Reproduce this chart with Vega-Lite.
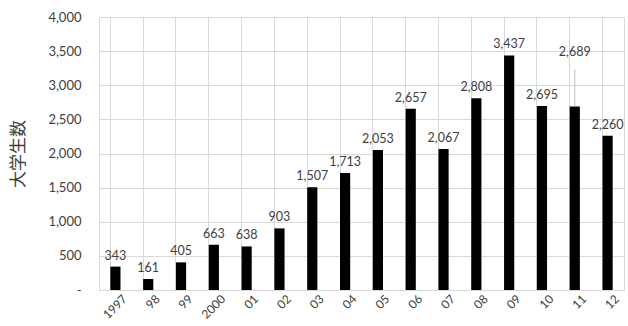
{
  "$schema": "https://vega.github.io/schema/vega-lite/v6.json",
  "width": 525,
  "height": 273,
  "autosize": {"type": "none"},
  "padding": {"left": 99, "top": 17, "right": 4, "bottom": 36},
  "background": "white",
  "config": {
    "view": {"stroke": "#d9d9d9"},
    "font": "Lato",
    "axis": {"gridColor": "#d9d9d9", "domainColor": "#d9d9d9", "labelColor": "#404040", "labelFontSize": 13, "labelFont": "Lato", "ticks": false},
    "axisY": {"labelOverlap": false}
  },
  "data": {
    "values": [
      {"year": "1997", "students": 343},
      {"year": "98", "students": 161},
      {"year": "99", "students": 405},
      {"year": "2000", "students": 663},
      {"year": "01", "students": 638},
      {"year": "02", "students": 903},
      {"year": "03", "students": 1507},
      {"year": "04", "students": 1713},
      {"year": "05", "students": 2053},
      {"year": "06", "students": 2657},
      {"year": "07", "students": 2067},
      {"year": "08", "students": 2808},
      {"year": "09", "students": 3437},
      {"year": "10", "students": 2695},
      {"year": "11", "students": 2689},
      {"year": "12", "students": 2260}
    ]
  },
  "transform": [
    {"calculate": "datum.year == '11' ? 3320 : datum.students", "as": "labelAt"},
    {"calculate": "datum.year == '11' ? 3235 : datum.students", "as": "leaderTop"}
  ],
  "encoding": {
    "x": {
      "field": "year", "type": "ordinal", "sort": null,
      "scale": {"paddingInner": 0.69, "paddingOuter": 0.345},
      "axis": {"title": null, "labelAngle": -45, "labelAlign": "right", "labelBaseline": "top", "labelPadding": 3, "labelOffset": 6, "labelFontSize": 12, "labelOverlap": false, "grid": true, "bandPosition": 0, "domain": true}
    }
  },
  "layer": [
    {
      "mark": {"type": "bar", "color": "#000000"},
      "encoding": {
        "y": {
          "field": "students", "type": "quantitative",
          "scale": {"domain": [0, 4000]},
          "axis": {
            "title": "大学生数", "titleFont": "Noto Sans CJK JP", "titleFontSize": 17, "titleFontWeight": "normal", "titleColor": "#404040",
            "titleAngle": -90, "titleX": -81, "titleY": 136.5, "titleAlign": "center", "titleBaseline": "middle",
            "values": [0, 500, 1000, 1500, 2000, 2500, 3000, 3500, 4000],
            "labelOverlap": false,
            "labelExpr": "datum.value == 0 ? '-' : format(datum.value, ',')",
            "labelPadding": 18, "domain": false, "grid": true
          }
        }
      }
    },
    {
      "transform": [{"filter": "datum.year == '11'"}],
      "mark": {"type": "rule", "color": "#bfbfbf", "strokeWidth": 1},
      "encoding": {
        "y": {
          "field": "students", "type": "quantitative",
          "axis": {
            "title": "大学生数", "titleFont": "Noto Sans CJK JP", "titleFontSize": 17, "titleFontWeight": "normal", "titleColor": "#404040",
            "titleAngle": -90, "titleX": -81, "titleY": 136.5, "titleAlign": "center", "titleBaseline": "middle",
            "values": [0, 500, 1000, 1500, 2000, 2500, 3000, 3500, 4000],
            "labelOverlap": false,
            "labelExpr": "datum.value == 0 ? '-' : format(datum.value, ',')",
            "labelPadding": 18, "domain": false, "grid": true
          }
        },
        "y2": {"field": "leaderTop"}
      }
    },
    {
      "mark": {"type": "text", "baseline": "bottom", "dy": -4, "fontSize": 12.5, "font": "Lato", "color": "#404040"},
      "encoding": {
        "y": {
          "field": "labelAt", "type": "quantitative",
          "axis": {
            "title": "大学生数", "titleFont": "Noto Sans CJK JP", "titleFontSize": 17, "titleFontWeight": "normal", "titleColor": "#404040",
            "titleAngle": -90, "titleX": -81, "titleY": 136.5, "titleAlign": "center", "titleBaseline": "middle",
            "values": [0, 500, 1000, 1500, 2000, 2500, 3000, 3500, 4000],
            "labelOverlap": false,
            "labelExpr": "datum.value == 0 ? '-' : format(datum.value, ',')",
            "labelPadding": 18, "domain": false, "grid": true
          }
        },
        "text": {"field": "students", "type": "quantitative", "format": ","}
      }
    }
  ]
}
